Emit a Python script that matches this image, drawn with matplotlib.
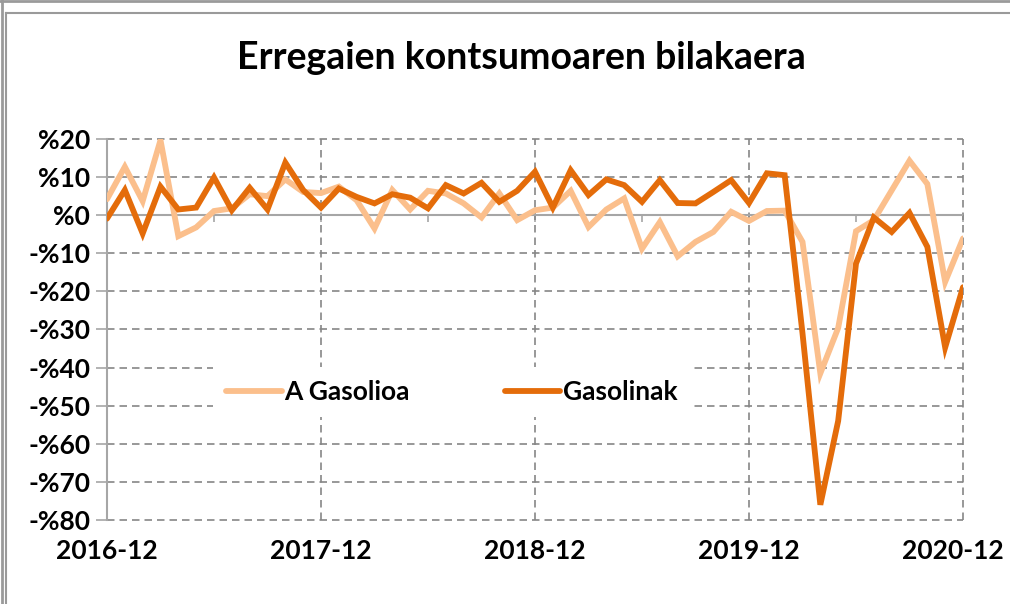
import numpy as np
import matplotlib
matplotlib.use("Agg")
import matplotlib.pyplot as plt
import matplotlib.transforms as mtransforms
from matplotlib.lines import Line2D

# hilabeteko datuak, 2016-12 -> 2020-12 (49 puntu)
gasolioa = [4.2, 12.7, 3.7, 19.7, -5.5, -3.2, 1.1, 1.8, 5.5, 5.0, 9.4, 6.1,
            5.8, 7.5, 3.9, -3.5, 6.6, 1.5, 6.4, 5.7, 3.1, -0.6, 5.7, -1.3,
            1.3, 2.0, 6.4, -3.1, 1.5, 4.4, -8.8, -1.8, -10.8, -7.0, -4.4, 0.9,
            -1.5, 1.1, 1.2, -7.0, -41.5, -29.6, -4.2, -1.3, 6.5, 14.3, 8.2, -17.5,
            -6.1]
gasolinak = [-0.9, 6.6, -4.8, 7.5, 1.5, 2.0, 9.9, 1.3, 7.2, 1.5, 13.8, 6.6,
             2.0, 7.0, 4.8, 3.1, 5.5, 4.6, 1.8, 7.9, 5.7, 8.5, 3.5, 6.4,
             11.4, 2.0, 11.8, 5.3, 9.4, 7.9, 3.5, 9.2, 3.2, 3.1, 6.1, 9.2,
             3.2, 11.0, 10.5, -31.0, -76.0, -54.0, -12.7, -0.6, -4.4, 0.6, -8.3, -34.7,
             -18.9]
urte_etiketak = ["2016-12", "2017-12", "2018-12", "2019-12", "2020-12"]
y_tikak = [20, 10, 0, -10, -20, -30, -40, -50, -60, -70, -80]

plt.rcParams['font.family'] = ['Lato', 'DejaVu Sans']
plt.rcParams['font.weight'] = 'bold'

argi = '#fbbf8c'
ilun = '#e46c0a'
grisa = '#868686'

fig = plt.figure(figsize=(10.1, 6.04), dpi=100)
ax = fig.add_axes([107/1010, 1-520/604, (963-107)/1010, (520-139)/604])

x = np.arange(len(gasolioa))
ax.plot(x, gasolioa, color=argi, lw=4.2, label='A Gasolioa', solid_joinstyle='miter',
        solid_capstyle='round', zorder=3)
ax.plot(x, gasolinak, color=ilun, lw=4.2, label='Gasolinak', solid_joinstyle='miter',
        solid_capstyle='round', zorder=4)

ax.set_xlim(0, len(x)-1)
ax.set_ylim(-80, 20)
ax.set_yticks(y_tikak)
ax.set_yticklabels([('%' + str(v)) if v >= 0 else ('-%' + str(-v)) for v in y_tikak])
ax.set_xticks(np.arange(0, len(x), 12))
ax.set_xticklabels(urte_etiketak)

ax.grid(True, color=grisa, ls=(0, (4.5, 3)), lw=1.2, clip_on=False)
ax.set_axisbelow(True)
for s in ['top', 'right', 'bottom']:
    ax.spines[s].set_visible(False)
ax.spines['left'].set_color('#a6a6a6')
ax.spines['left'].set_linewidth(1.5)

ax.tick_params(axis='y', length=8, width=1.2, color='#a6a6a6', labelsize=19, pad=4)
ax.tick_params(axis='x', length=0, labelsize=19, pad=14)

# azken etiketa ertzean ez mozteko
azkena = ax.get_xticklabels()[-1]
azkena.set_transform(azkena.get_transform() + mtransforms.ScaledTranslation(-10/100, 0, fig.dpi_scale_trans))

# zero ardatza, sei hilabetero tikak
ax.axhline(0, color='#a6a6a6', lw=1.5, zorder=2)
sec = ax.secondary_xaxis(0.8)
sec.set_xticks(np.arange(0, len(x), 6))
sec.set_xticklabels([])
sec.xaxis.set_ticks_position('bottom')
sec.tick_params(length=5, width=1.2, color='#a6a6a6', labelbottom=False, labeltop=False,
                direction='out')
sec.spines['bottom'].set_visible(False)
sec.spines['top'].set_visible(False)

leg = ax.legend(loc='center', bbox_to_anchor=((452-107)/856, (520-392)/381), ncol=2,
                frameon=True, fontsize=19, handlelength=2.1, handletextpad=0.1,
                columnspacing=3.6, borderpad=0.5, fancybox=False)
leg.get_frame().set_edgecolor('none')
leg.get_frame().set_facecolor('white')
leg.get_frame().set_alpha(1)
leg.set_zorder(5)

fig.text(521/1010, 1-58/604, 'Erregaien kontsumoaren bilakaera', ha='center', va='center',
         fontsize=27, fontweight='bold')

# pantaila-argazkiaren ertzak
fig.add_artist(Line2D([0, 1], [1-1/604, 1-1/604], color='#9a9a9a', lw=2))
fig.add_artist(Line2D([1.5/1010, 1.5/1010], [0, 1], color='#9a9a9a', lw=2))
fig.add_artist(Line2D([6/1010, 1], [1-13/604, 1-13/604], color='#9a9a9a', lw=1.5))
fig.add_artist(Line2D([6/1010, 6/1010], [0, 1-13/604], color='#9a9a9a', lw=1.5))

fig.savefig('out.png', dpi=100)
